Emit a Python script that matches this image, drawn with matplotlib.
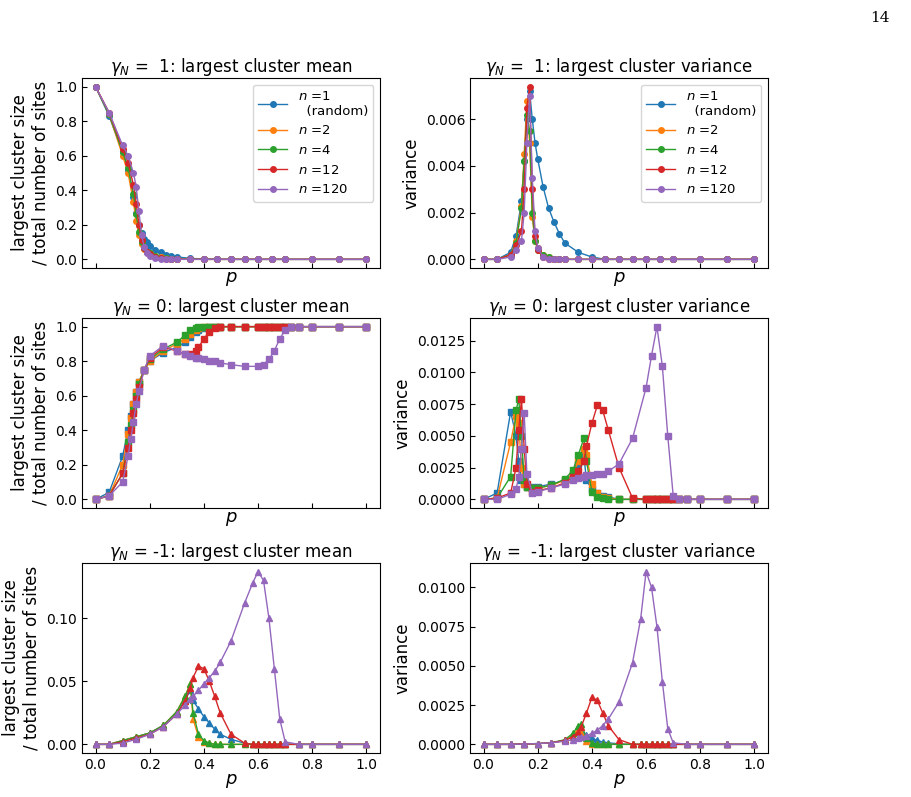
import numpy as np
import matplotlib
matplotlib.use('Agg')
import matplotlib.pyplot as plt

labels = ['$n$ =1\n  (random)', '$n$ =2', '$n$ =4', '$n$ =12', '$n$ =120']
colors = ['#1f77b4', '#ff7f0e', '#2ca02c', '#d62728', '#9467bd']

# gamma_N = 1
p1 = [0, .05, .1, .12, .14, .15, .16, .17, .18, .19, .2, .22, .24, .26, .28, .3, .35, .4, .45, .5, .55, .6, .65, .7, .8, .9, 1.0]
mean1 = [
    [1, .83, .62, .52, .36, .27, .2, .15, .12, .1, .08, .055, .04, .028, .02, .014, .006, .002, .001, 0, 0, 0, 0, 0, 0, 0, 0],
    [1, .84, .6, .5, .33, .22, .14, .09, .06, .045, .035, .02, .012, .007, .004, .002, .001, 0, 0, 0, 0, 0, 0, 0, 0, 0, 0],
    [1, .84, .62, .53, .38, .26, .16, .1, .065, .045, .035, .02, .01, .006, .003, .002, .001, 0, 0, 0, 0, 0, 0, 0, 0, 0, 0],
    [1, .85, .64, .56, .43, .32, .2, .11, .065, .04, .03, .015, .008, .004, .002, .001, 0, 0, 0, 0, 0, 0, 0, 0, 0, 0, 0],
    [1, .85, .66, .6, .5, .42, .28, .14, .07, .035, .02, .008, .003, .001, 0, 0, 0, 0, 0, 0, 0, 0, 0, 0, 0, 0, 0],
]
var1 = [  # x 1e-3
    [0, 0, .3, 1.0, 2.5, 4.2, 6.0, 7.2, 6.0, 5.0, 4.3, 3.1, 2.2, 1.6, 1.1, .7, .3, .1, 0, 0, 0, 0, 0, 0, 0, 0, 0],
    [0, 0, .2, .8, 2.3, 4.5, 6.8, 5.0, 1.8, .8, .5, .2, .1, 0, 0, 0, 0, 0, 0, 0, 0, 0, 0, 0, 0, 0, 0],
    [0, 0, .2, .7, 2.2, 4.2, 6.2, 5.5, 2.0, .8, .4, .2, .1, 0, 0, 0, 0, 0, 0, 0, 0, 0, 0, 0, 0, 0, 0],
    [0, 0, .2, .6, 1.2, 3.0, 6.5, 7.4, 3.0, 1.0, .4, .1, 0, 0, 0, 0, 0, 0, 0, 0, 0, 0, 0, 0, 0, 0, 0],
    [0, 0, .1, .4, .8, 2.0, 5.0, 7.0, 3.5, 1.2, .5, .1, 0, 0, 0, 0, 0, 0, 0, 0, 0, 0, 0, 0, 0, 0, 0],
]

# gamma_N = 0
p2 = [0, .05, .1, .12, .13, .14, .15, .16, .18, .2, .25, .3, .33, .35, .37, .38, .4, .42, .44, .46, .5, .55, .6, .62, .64, .66, .68, .7, .72, .75, .8, .9, 1.0]
mean2 = [
    [0, .04, .25, .4, .48, .55, .62, .68, .75, .8, .85, .88, .91, .94, .97, .98, .99, 1, 1, 1, 1, 1, 1, 1, 1, 1, 1, 1, 1, 1, 1, 1, 1],
    [0, .02, .2, .38, .47, .55, .62, .68, .75, .8, .86, .9, .93, .96, .98, .99, 1, 1, 1, 1, 1, 1, 1, 1, 1, 1, 1, 1, 1, 1, 1, 1, 1],
    [0, .02, .15, .33, .43, .52, .6, .67, .75, .81, .87, .91, .95, .98, .99, 1, 1, 1, 1, 1, 1, 1, 1, 1, 1, 1, 1, 1, 1, 1, 1, 1, 1],
    [0, .02, .15, .3, .4, .5, .58, .65, .75, .82, .88, .86, .84, .84, .86, .88, .93, .97, .99, 1, 1, 1, 1, 1, 1, 1, 1, 1, 1, 1, 1, 1, 1],
    [0, .02, .1, .25, .35, .45, .55, .63, .75, .83, .89, .86, .84, .83, .82, .82, .81, .8, .8, .79, .78, .77, .77, .78, .81, .86, .93, .98, 1, 1, 1, 1, 1],
]
var2 = [  # x 1e-3
    [0, .5, 6.9, 5.0, 3.0, 1.5, 1.2, 1.0, 1.0, 1.0, 1.2, 1.5, 2.0, 2.8, 3.5, 1.5, .8, .5, .3, .2, 0, 0, 0, 0, 0, 0, 0, 0, 0, 0, 0, 0, 0],
    [0, .1, 4.5, 6.6, 6.0, 2.5, 1.2, 1.0, .9, .9, 1.1, 1.5, 2.0, 3.0, 4.0, 3.5, 1.2, .5, .2, .1, 0, 0, 0, 0, 0, 0, 0, 0, 0, 0, 0, 0, 0],
    [0, .1, 1.8, 7.0, 7.9, 5.0, 1.5, 1.0, .9, .9, 1.1, 1.6, 2.3, 3.5, 4.8, 3.0, .6, .2, .1, 0, 0, 0, 0, 0, 0, 0, 0, 0, 0, 0, 0, 0, 0],
    [0, .1, .5, 2.5, 5.5, 7.9, 4.0, 1.2, .6, .7, .9, 1.3, 1.8, 2.2, 3.0, 4.2, 6.0, 7.4, 7.0, 5.5, 2.5, .1, 0, 0, 0, 0, 0, 0, 0, 0, 0, 0, 0],
    [0, 0, .4, .8, 1.8, 4.0, 6.8, 2.0, .5, .6, .9, 1.2, 1.5, 1.7, 1.8, 1.9, 1.9, 2.0, 2.0, 2.2, 2.8, 4.8, 8.8, 11.3, 13.6, 10.5, 5.0, .3, 0, 0, 0, 0, 0],
]

# gamma_N = -1
p3 = [0, .05, .1, .15, .2, .25, .3, .33, .35, .36, .38, .4, .42, .44, .46, .5, .55, .58, .6, .62, .64, .66, .68, .7, .75, .8, .9, 1.0]
mean3 = [
    [0, 0, .003, .006, .009, .015, .025, .035, .043, .035, .028, .022, .017, .012, .008, .004, .001, 0, 0, 0, 0, 0, 0, 0, 0, 0, 0, 0],
    [0, 0, .003, .006, .009, .015, .026, .038, .048, .02, .006, .002, .001, 0, 0, 0, 0, 0, 0, 0, 0, 0, 0, 0, 0, 0, 0, 0],
    [0, 0, .003, .006, .009, .015, .026, .038, .048, .025, .008, .003, .001, 0, 0, 0, 0, 0, 0, 0, 0, 0, 0, 0, 0, 0, 0, 0],
    [0, 0, .002, .005, .008, .014, .024, .034, .045, .053, .062, .06, .05, .038, .025, .008, .001, 0, 0, 0, 0, 0, 0, 0, 0, 0, 0, 0],
    [0, 0, .001, .004, .008, .014, .024, .031, .036, .038, .043, .048, .053, .058, .065, .082, .112, .128, .137, .13, .1, .06, .02, .002, 0, 0, 0, 0],
]
var3 = [  # x 1e-3
    [0, 0, 0, .02, .05, .1, .25, .5, .85, .8, .6, .4, .25, .15, .1, .03, 0, 0, 0, 0, 0, 0, 0, 0, 0, 0, 0, 0],
    [0, 0, 0, .02, .05, .1, .25, .55, 1.0, .7, .2, .05, 0, 0, 0, 0, 0, 0, 0, 0, 0, 0, 0, 0, 0, 0, 0, 0],
    [0, 0, 0, .02, .05, .1, .3, .7, 1.2, 1.3, .4, .1, 0, 0, 0, 0, 0, 0, 0, 0, 0, 0, 0, 0, 0, 0, 0, 0],
    [0, 0, 0, .02, .05, .1, .25, .5, .8, 1.1, 2.0, 3.0, 2.8, 2.0, 1.2, .3, 0, 0, 0, 0, 0, 0, 0, 0, 0, 0, 0, 0],
    [0, 0, 0, .02, .05, .1, .2, .3, .4, .45, .55, .7, .9, 1.2, 1.6, 2.7, 5.2, 8.0, 11.0, 10.0, 7.5, 4.0, 1.0, .1, 0, 0, 0, 0],
]

rows = [
    (p1, mean1, var1, 'o', ' =  1'),
    (p2, mean2, var2, 's', ' = 0'),
    (p3, mean3, var3, '^', ' = -1'),
]

W, H = 912, 797
fig = plt.figure(figsize=(W / 100, H / 100), dpi=100)
fig.text(890 / W, 1 - 18 / H, '14', family='DejaVu Serif', fontsize=11, ha='right', va='center')

tops = [78, 318, 563]
heights = 190
lefts = [82, 470]
width = 298

for r, (p, mean, var, mk, g) in enumerate(rows):
    for c in range(2):
        ax = fig.add_axes([lefts[c] / W, 1 - (tops[r] + heights) / H, width / W, heights / H])
        data = mean if c == 0 else var
        for i in range(5):
            y = np.array(data[i], dtype=float)
            if c == 1:
                y = y * 1e-3
            ax.plot(p, y, marker=mk, ms=4, lw=1, color=colors[i], label=labels[i])
        kind = 'mean' if c == 0 else 'variance'
        g2 = g if not (r == 2 and c == 1) else ' =  -1'
        ax.set_title(r'$\gamma_N$' + g2 + ': largest cluster ' + kind, fontsize=12, pad=4)
        ax.tick_params(direction='in', labelsize=10)
        ax.set_xticks([0, .2, .4, .6, .8, 1.0])
        ax.set_xlim(-0.05, 1.05)
        if r < 2:
            ax.set_xticklabels([])
        ax.set_xlabel('$p$', fontsize=13, labelpad=-2 if r < 2 else 0)
        if c == 0:
            ax.set_ylabel('largest cluster size\n/ total number of sites', fontsize=12)
        else:
            ax.set_ylabel('variance', fontsize=12)
        if r == 0:
            ax.legend(loc='upper right', fontsize=9.5, handlelength=2.2)

plt.savefig('out.png', dpi=100)
